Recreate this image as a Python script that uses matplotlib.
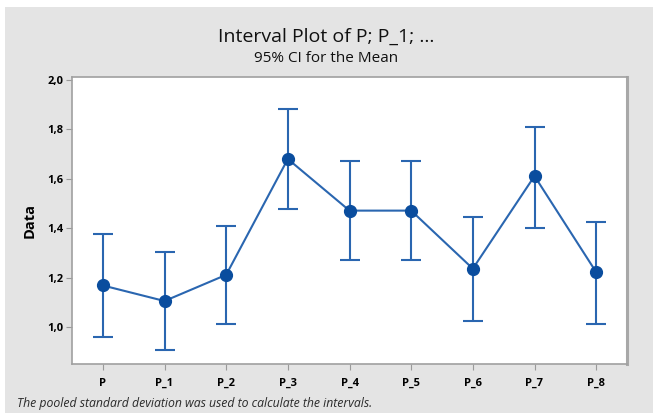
import matplotlib
matplotlib.use('Agg')
import matplotlib.pyplot as plt
from matplotlib.patches import Rectangle

# values (95% CI for the mean)
groups = ['P', 'P_1', 'P_2', 'P_3', 'P_4', 'P_5', 'P_6', 'P_7', 'P_8']
means = [1.168, 1.105, 1.211, 1.680, 1.471, 1.471, 1.236, 1.611, 1.222]
lower = [0.960, 0.907, 1.012, 1.478, 1.271, 1.271, 1.024, 1.402, 1.013]
upper = [1.377, 1.304, 1.410, 1.881, 1.672, 1.672, 1.445, 1.811, 1.426]
yticks = [1.0, 1.2, 1.4, 1.6, 1.8, 2.0]
ytick_labels = ['1,0', '1,2', '1,4', '1,6', '1,8', '2,0']

plt.rcParams['font.family'] = ['Open Sans', 'DejaVu Sans']

fig = plt.figure(figsize=(6.53, 4.13), dpi=100, facecolor='white')
# gray panel behind everything (white strip on top and left like the screenshot)
fig.patches.append(Rectangle((5 / 653, 0), 1, 1 - 7 / 413, transform=fig.transFigure,
                             facecolor='#e4e4e4', edgecolor='none', zorder=-10))

ax = fig.add_axes([72 / 653, 1 - 364 / 413, 555 / 653, 287 / 413])
ax.set_facecolor('white')

x = list(range(len(groups)))
yerr = [[m - lo for m, lo in zip(means, lower)], [hi - m for m, hi in zip(means, upper)]]

ax.errorbar(x, means, yerr=yerr, fmt='none', ecolor='#2a66b0', elinewidth=1.5,
            capsize=7, capthick=1.5, zorder=2)
ax.plot(x, means, color='#2a66b0', linewidth=1.5, zorder=3)
ax.plot(x, means, 'o', color='#0a4d9e', markersize=8.5, zorder=4)

ax.set_xlim(-0.5, len(groups) - 0.5)
ax.set_ylim(0.85, 2.012)
ax.set_xticks(x)
ax.set_xticklabels(groups, fontsize=8, fontweight='bold')
ax.set_yticks(yticks)
ax.set_yticklabels(ytick_labels, fontsize=8, fontweight='bold')
ax.tick_params(length=4, width=0.8, color='#9a9a9a', pad=2)
ax.tick_params(axis='x', pad=6)

for side in ['left', 'bottom', 'top']:
    ax.spines[side].set_color('#a0a0a0')
    ax.spines[side].set_linewidth(1.2)
ax.spines['right'].set_color('#a8a8a8')
ax.spines['right'].set_linewidth(2.2)

ax.set_ylabel('Data', fontsize=10.5, fontweight='bold', labelpad=8)

fig.text(0.5, 1 - 37 / 413, 'Interval Plot of P; P_1; ...', ha='center', va='center',
         fontsize=14, color='#111111')
fig.text(0.5, 1 - 59 / 413, '95% CI for the Mean', ha='center', va='center',
         fontsize=11, color='#111111')
fig.text(17 / 653, 1 - 403 / 413, 'The pooled standard deviation was used to calculate the intervals.',
         ha='left', va='center', fontsize=8.8, style='italic', color='#2a2a2a')

fig.savefig('out.png', dpi=100, facecolor=fig.get_facecolor())
